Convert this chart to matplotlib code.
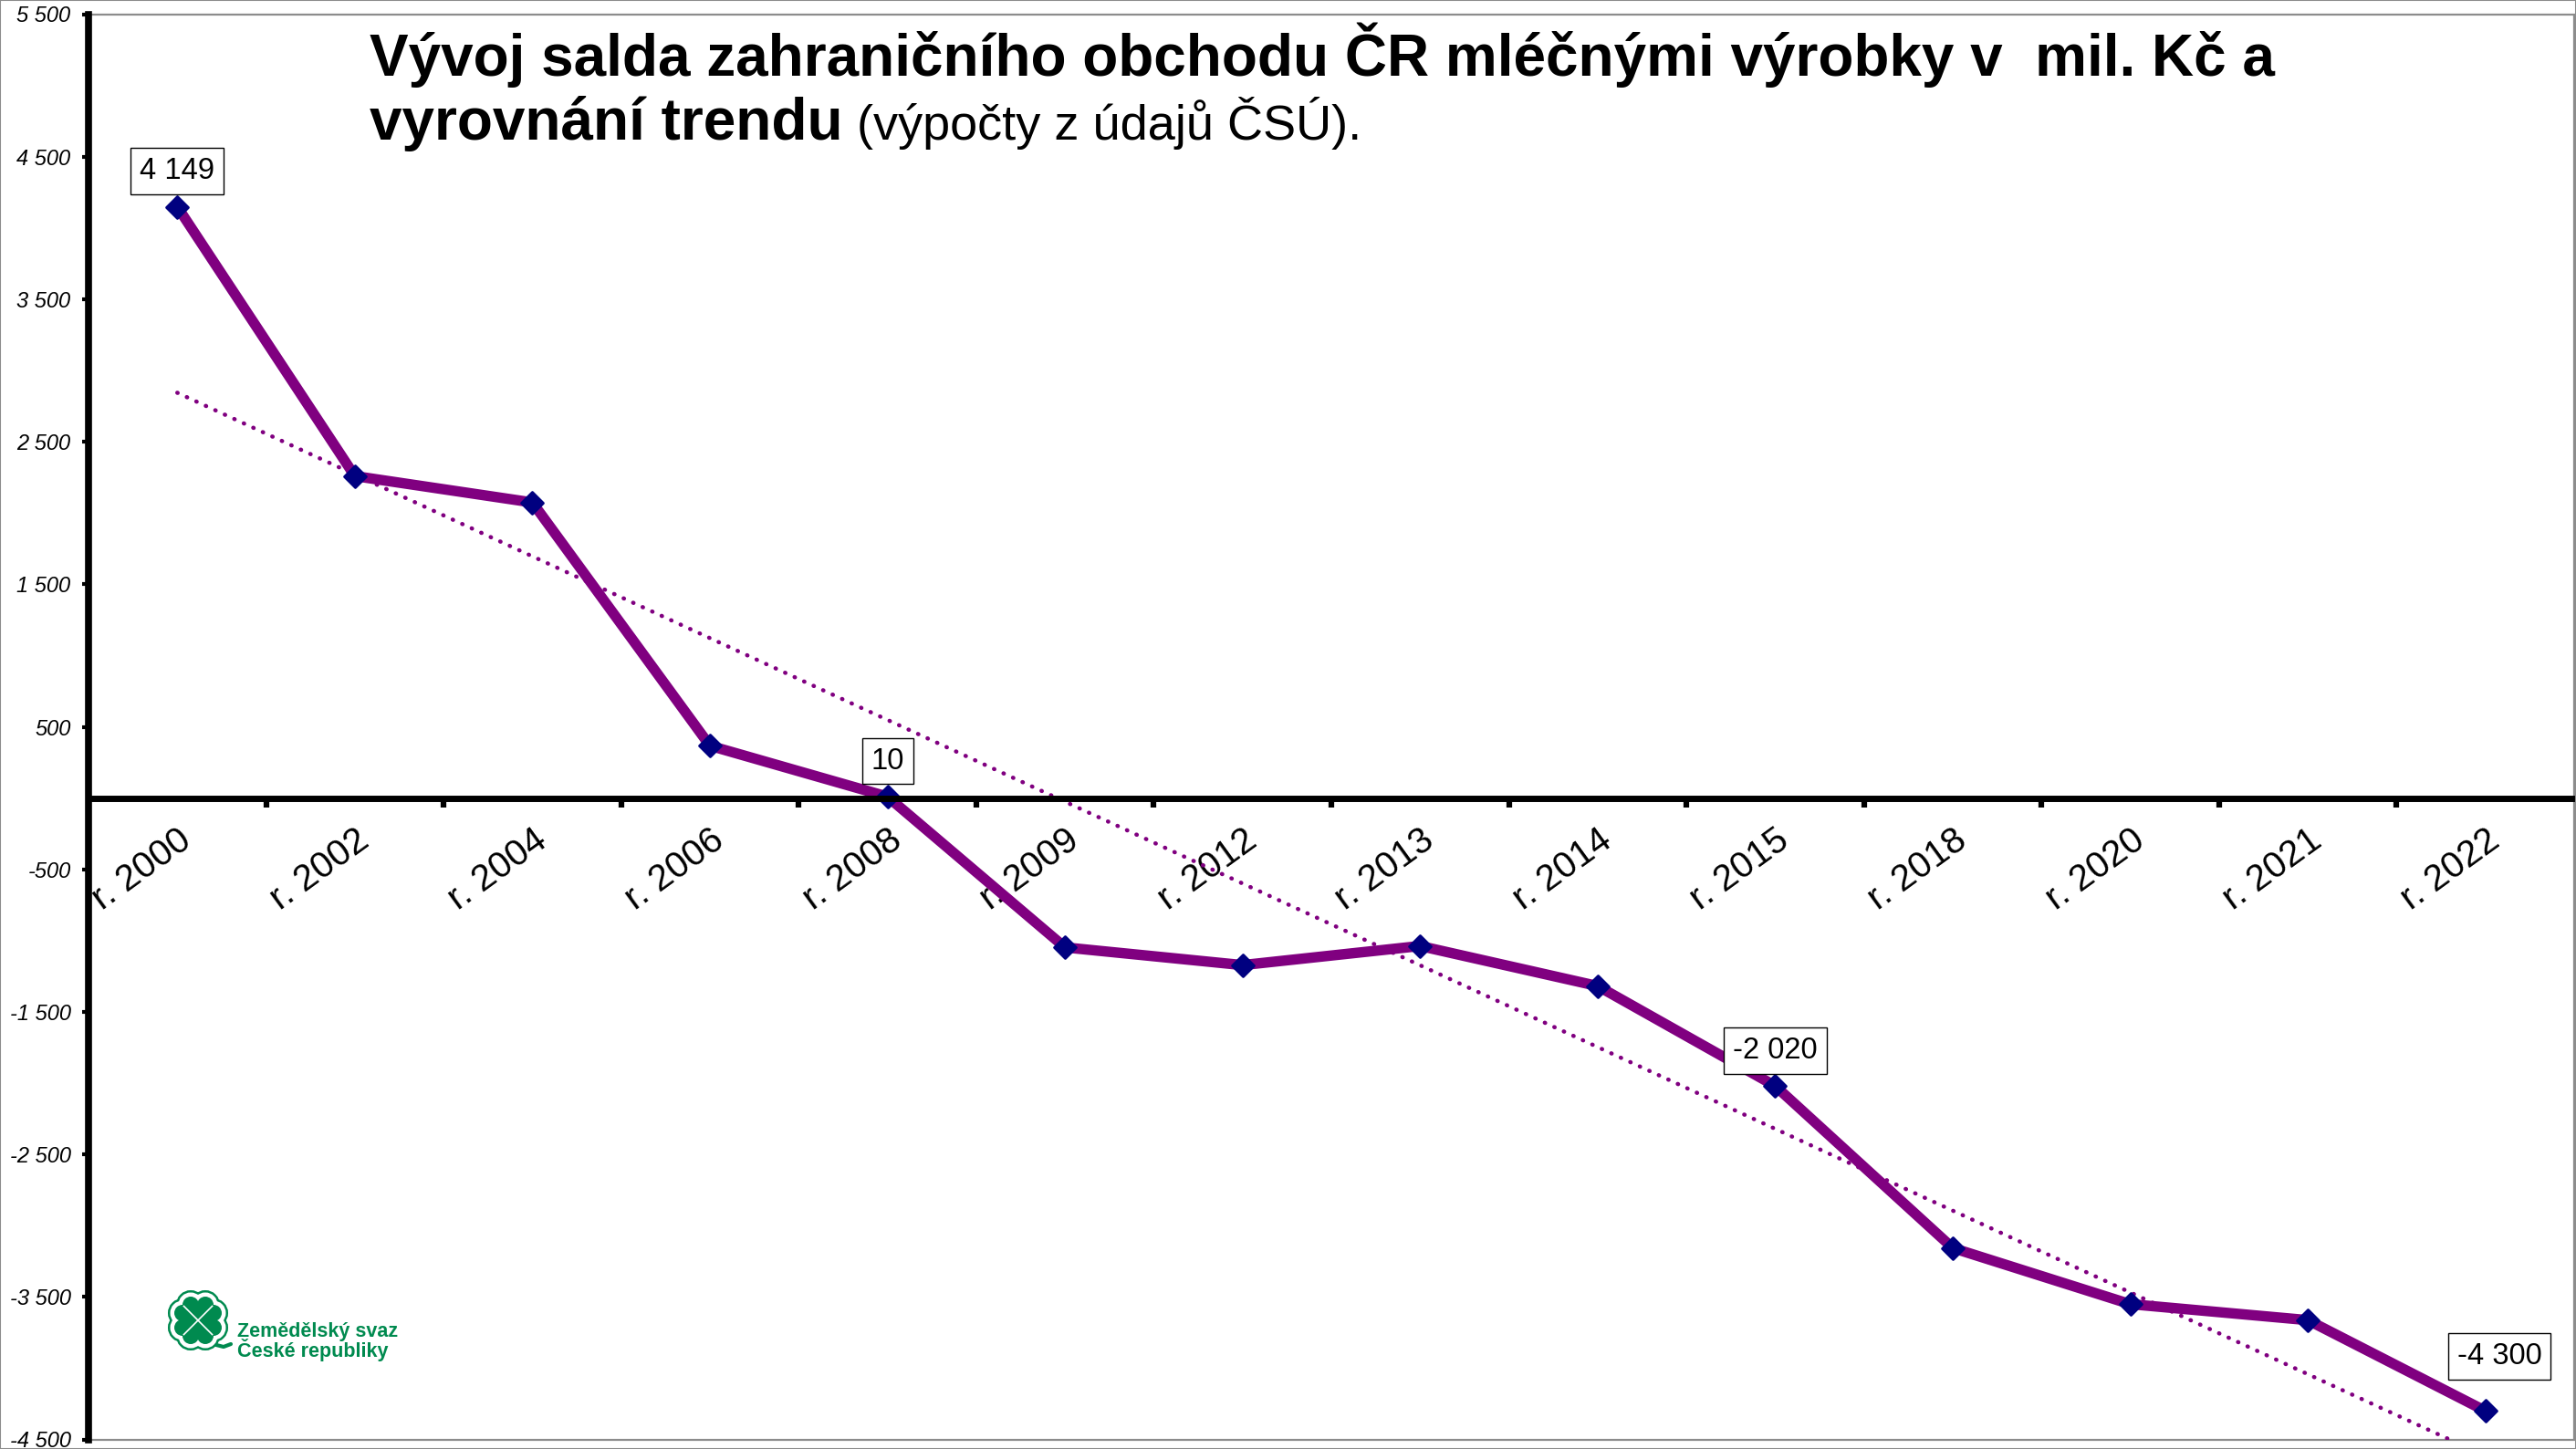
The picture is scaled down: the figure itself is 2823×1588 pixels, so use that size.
import numpy as np
import matplotlib.pyplot as plt
from matplotlib.markers import MarkerStyle
from matplotlib.patches import Rectangle, Circle, Polygon

plt.rcParams['font.family'] = ['Liberation Sans', 'DejaVu Sans']

years = ["r. 2000", "r. 2002", "r. 2004", "r. 2006", "r. 2008", "r. 2009", "r. 2012",
         "r. 2013", "r. 2014", "r. 2015", "r. 2018", "r. 2020", "r. 2021", "r. 2022"]
saldo = [4149, 2259, 2074, 367, 10, -1048, -1172, -1038, -1319, -2020, -3157, -3551, -3663, -4300]
yticks = [5500, 4500, 3500, 2500, 1500, 500, -500, -1500, -2500, -3500, -4500]
labeled = [0, 4, 9, 13]
label_offsets = [(0, 28), (0, 28), (0, 28), (11, 43)]

W, H = 2823, 1588
fig = plt.figure(figsize=(W / 100, H / 100), dpi=100)
ax = fig.add_axes([97 / W, 1 - 1577.5 / H, (2821 - 97) / W, (1577.5 - 15.5) / H])

x = np.arange(len(years))
ax.set_xlim(-0.5, len(years) - 0.5)
ax.set_ylim(-4500, 5500)

# trend line (linear fit like excel)
k, q = np.polyfit(x, saldo, 1)
ax.plot(x, k * x + q, color='#800080', lw=3.3, linestyle=(0, (0.1, 2.4)),
        dash_capstyle='round', zorder=2)

mk = MarkerStyle('D', joinstyle='round')
ax.plot(x, saldo, color='#800080', lw=8.2, marker=mk, ms=12.5, mfc='#000080',
        mec='#000080', mew=2, zorder=3, solid_joinstyle='round')

for i, (dx, dy) in zip(labeled, label_offsets):
    s = f"{saldo[i]:,}".replace(",", " ")
    ax.annotate(s, (x[i], saldo[i]), xytext=(dx, dy), textcoords='offset points',
                ha='center', va='center', fontsize=23.5, zorder=5,
                bbox=dict(boxstyle='square,pad=0.3', fc='white', ec='black', lw=1))

# axes styling
for side in ['top', 'right']:
    ax.spines[side].set_visible(False)
ax.spines['left'].set_linewidth(5.5)
ax.spines['left'].set_zorder(4)
ax.spines['bottom'].set_position(('data', 0))
ax.spines['bottom'].set_linewidth(5)
ax.spines['bottom'].set_zorder(4)
ax.add_patch(Rectangle((0, 0), 1, 1, transform=ax.transAxes, fill=False,
                       ec='#8c8c8c', lw=1.6, clip_on=False, zorder=1))

ax.set_yticks(yticks)
ax.set_yticklabels([f"{v:,}".replace(",", " ") for v in yticks], fontsize=17, style='italic')
ax.tick_params(axis='y', direction='out', length=5, width=3, pad=9)

ax.set_xticks(x)
ax.set_xticklabels(years, fontsize=29, rotation=36, ha='right', va='top',
                   rotation_mode='anchor')
ax.set_xticks(np.arange(0.5, len(years) - 0.5, 1), minor=True)
ax.tick_params(axis='x', which='major', length=0, pad=19)
ax.tick_params(axis='x', which='minor', direction='out', length=7, width=4.5)

# title
y1 = 1 - 83 / H
y2 = 1 - 153 / H
fig.text(405 / W, y1, "Vývoj salda zahraničního obchodu ČR mléčnými výrobky v  mil. Kč a",
         fontsize=46, fontweight='bold', va='baseline')
t2 = fig.text(405 / W, y2, "vyrovnání trendu", fontsize=46, fontweight='bold', va='baseline')
fig.canvas.draw()
bb = t2.get_window_extent()
fig.text(bb.x1 / W, y2, " (výpočty z údajů ČSÚ).", fontsize=39, va='baseline')

# logo of the union
green = '#008a4f'
lax = fig.add_axes([178 / W, 1 - 1486 / H, 78 / W, 78 / H])
lax.set_xlim(-39, 39)
lax.set_ylim(-39, 39)
lax.set_aspect('equal')
lax.axis('off')


def leaves(color, grow, z):
    lw = 2 * grow / 1.389
    for a in np.radians([90, 0, 270, 180]):
        d = np.array([np.cos(a), np.sin(a)])
        p = np.array([-d[1], d[0]])
        c1 = d * 17 + p * 8
        c2 = d * 17 - p * 8
        for c in (c1, c2):
            lax.add_patch(Circle(c, 9, fc=color, ec=color, lw=lw, zorder=z))
        tri = [(0, 0), tuple(c1 + p * 8.5 - d * 2), tuple(c2 - p * 8.5 - d * 2)]
        lax.add_patch(Polygon(tri, closed=True, fc=color, ec=color, lw=lw,
                              joinstyle='round', zorder=z))


lax.plot([12, 20, 28, 36], [-22, -27, -29, -26], color=green, lw=3, zorder=1,
         solid_capstyle='round')
leaves(green, 7, 2)
leaves('white', 4.5, 3)
leaves(green, 0, 4)
for a in np.radians([45, 135, 225, 315]):
    lax.plot([0, 22 * np.cos(a)], [0, 22 * np.sin(a)], color='white', lw=1.2, zorder=5)

fig.text(260 / W, 1 - 1465 / H, "Zemědělský svaz", fontsize=15.5, fontweight='bold',
         color=green, va='baseline')
fig.text(260 / W, 1 - 1487 / H, "České republiky", fontsize=15.5, fontweight='bold',
         color=green, va='baseline')

fig.add_artist(Rectangle((0, 0), 1, 1, transform=fig.transFigure, fill=False,
                         ec='#8c8c8c', lw=1.5))

fig.savefig('out.png', dpi=100)
